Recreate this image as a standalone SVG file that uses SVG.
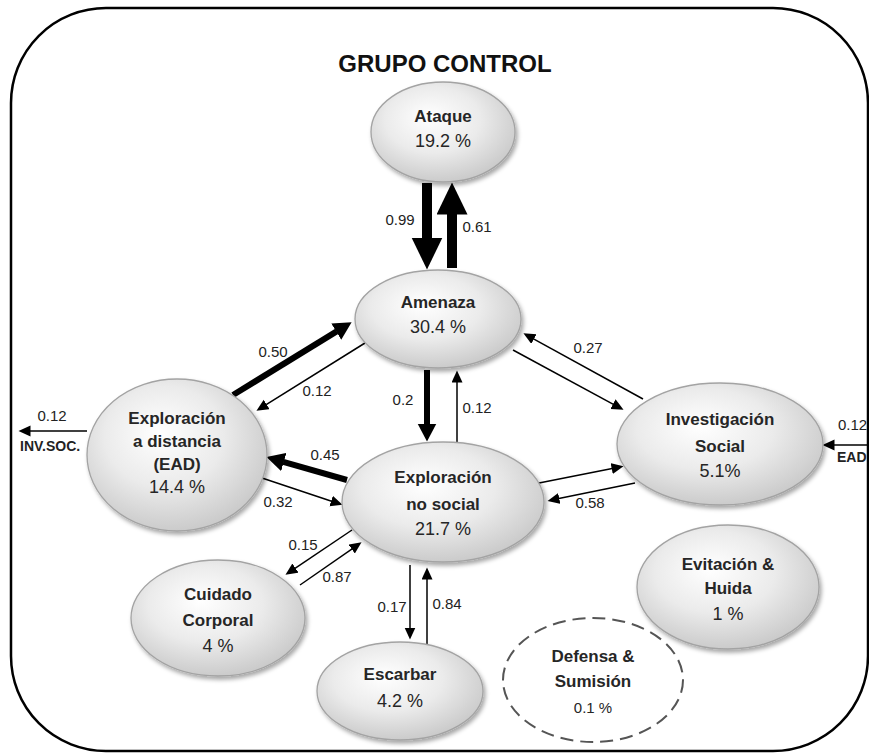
<svg xmlns="http://www.w3.org/2000/svg" width="869" height="756" viewBox="0 0 869 756">
<defs>
<radialGradient id="g" cx="45%" cy="40%" r="60%" fx="40%" fy="35%">
<stop offset="0" stop-color="#ffffff"/>
<stop offset="0.55" stop-color="#ebebeb"/>
<stop offset="1" stop-color="#cbcbcb"/>
</radialGradient>
<filter id="sh" x="-20%" y="-20%" width="140%" height="150%">
<feDropShadow dx="2" dy="3" stdDeviation="2" flood-color="#000" flood-opacity="0.35"/>
</filter>
<marker id="ms" markerUnits="userSpaceOnUse" markerWidth="14" markerHeight="12" refX="0.5" refY="5.5" orient="auto">
<path d="M0,0 L12,5.5 L0,11 Z" fill="#000"/>
</marker>
<marker id="mm" markerUnits="userSpaceOnUse" markerWidth="20" markerHeight="20" refX="0.5" refY="9.5" orient="auto">
<path d="M0,0 L18,9.5 L0,19 Z" fill="#000"/>
</marker>
<marker id="mb" markerUnits="userSpaceOnUse" markerWidth="34" markerHeight="32" refX="0.5" refY="15.5" orient="auto">
<path d="M0,0 L32,15.5 L0,31 Z" fill="#000"/>
</marker>
</defs>
<style>
.node{fill:url(#g);stroke:#a3a3a3;stroke-width:1.3;filter:url(#sh)}
.dash{fill:#fff;stroke:#555;stroke-width:2;stroke-dasharray:13 7}
.t{font-family:"Liberation Sans",Arial,sans-serif;font-weight:bold;font-size:17px;fill:#262626;text-anchor:middle}
.p{font-family:"Liberation Sans",Arial,sans-serif;font-size:18px;fill:#262626;text-anchor:middle}
.e{font-family:"Liberation Sans",Arial,sans-serif;font-size:15px;fill:#222;text-anchor:middle}
.x{font-family:"Liberation Sans",Arial,sans-serif;font-weight:bold;font-size:14px;fill:#222}
.thin{stroke:#000;stroke-width:1.5;fill:none;marker-end:url(#ms)}
.mid{stroke:#000;stroke-width:6;fill:none;marker-end:url(#mm)}
.big{stroke:#000;stroke-width:10;fill:none;marker-end:url(#mb)}
</style>
<rect x="11" y="8" width="857" height="743" rx="95" ry="95" fill="#fff" stroke="#000" stroke-width="2.5"/>
<text x="445" y="72" font-family="'Liberation Sans',Arial,sans-serif" font-weight="bold" font-size="24" fill="#111" text-anchor="middle">GRUPO CONTROL</text>

<g id="connectors">
<line class="big" x1="427" y1="183" x2="427" y2="238"/>
<line class="big" x1="452" y1="268" x2="452" y2="214"/>
<line class="mid" x1="233" y1="395" x2="336.7" y2="331.4"/>
<line class="thin" x1="365" y1="343" x2="266.2" y2="404.7"/>
<line class="mid" x1="427" y1="370" x2="427" y2="424"/>
<line class="thin" x1="457" y1="442" x2="457" y2="382"/>
<line class="mid" x1="347" y1="480" x2="283.3" y2="461.9"/>
<line class="thin" x1="262" y1="478" x2="331.6" y2="501.2"/>
<line class="thin" x1="513" y1="350" x2="613.4" y2="404.3"/>
<line class="thin" x1="643" y1="399" x2="533.5" y2="338.8"/>
<line class="thin" x1="539" y1="483" x2="612.2" y2="468.4"/>
<line class="thin" x1="635" y1="483" x2="558.8" y2="498.6"/>
<line class="thin" x1="87" y1="431" x2="30" y2="431"/>
<line class="thin" x1="869" y1="445" x2="834" y2="445"/>
<line class="thin" x1="352" y1="530" x2="295" y2="568.3"/>
<line class="thin" x1="300" y1="585" x2="352.1" y2="548.8"/>
<line class="thin" x1="410" y1="565" x2="410" y2="628"/>
<line class="thin" x1="427" y1="645" x2="427" y2="579"/>
<text class="e" x="400" y="225">0.99</text>
<text class="e" x="477" y="232">0.61</text>
<text class="e" x="273" y="357">0.50</text>
<text class="e" x="317" y="396">0.12</text>
<text class="e" x="403" y="405">0.2</text>
<text class="e" x="477" y="413">0.12</text>
<text class="e" x="325" y="460">0.45</text>
<text class="e" x="278" y="507">0.32</text>
<text class="e" x="588" y="353">0.27</text>
<text class="e" x="590" y="508">0.58</text>
<text class="e" x="303" y="550">0.15</text>
<text class="e" x="337" y="582">0.87</text>
<text class="e" x="392" y="612">0.17</text>
<text class="e" x="447" y="609">0.84</text>
<text class="e" x="52" y="421">0.12</text>
<text class="x" x="20" y="451">INV.SOC.</text>
<text class="e" x="838" y="430" style="text-anchor:start">0.12</text>
<text class="x" x="837" y="462">EAD</text>
</g>

<g id="ataque">
<ellipse class="node" cx="443" cy="132" rx="72" ry="50"/>
<text class="t" x="443" y="122">Ataque</text>
<text class="p" x="443" y="147">19.2 %</text>
</g>
<g id="amenaza">
<ellipse class="node" cx="438" cy="319" rx="83" ry="49"/>
<text class="t" x="438" y="308">Amenaza</text>
<text class="p" x="438" y="333">30.4 %</text>
</g>
<g id="ead">
<ellipse class="node" cx="177" cy="455" rx="90" ry="76"/>
<text class="t" x="177" y="424">Exploración</text>
<text class="t" x="177" y="447">a distancia</text>
<text class="t" x="177" y="470">(EAD)</text>
<text class="p" x="177" y="493">14.4 %</text>
</g>
<g id="exploracion-no-social">
<ellipse class="node" cx="443" cy="502" rx="101" ry="60"/>
<text class="t" x="443" y="483">Exploración</text>
<text class="t" x="443" y="510">no social</text>
<text class="p" x="443" y="535">21.7 %</text>
</g>
<g id="investigacion-social">
<ellipse class="node" cx="720" cy="444" rx="103" ry="61"/>
<text class="t" x="720" y="425">Investigación</text>
<text class="t" x="720" y="452">Social</text>
<text class="p" x="720" y="477">5.1%</text>
</g>
<g id="cuidado-corporal">
<ellipse class="node" cx="218" cy="618" rx="87" ry="58"/>
<text class="t" x="218" y="600">Cuidado</text>
<text class="t" x="218" y="626">Corporal</text>
<text class="p" x="218" y="652">4 %</text>
</g>
<g id="escarbar">
<ellipse class="node" cx="400" cy="691" rx="83" ry="49"/>
<text class="t" x="400" y="680">Escarbar</text>
<text class="p" x="400" y="707">4.2 %</text>
</g>
<g id="evitacion-huida">
<ellipse class="node" cx="728" cy="587" rx="91" ry="62"/>
<text class="t" x="728" y="570">Evitación &amp;</text>
<text class="t" x="728" y="594">Huida</text>
<text class="p" x="728" y="620">1 %</text>
</g>
<g id="defensa-sumision">
<ellipse class="dash" cx="593" cy="680" rx="90" ry="62"/>
<text class="t" x="593" y="662">Defensa &amp;</text>
<text class="t" x="593" y="687">Sumisión</text>
<text class="p" x="593" y="713" style="font-size:15px">0.1 %</text>
</g>
</svg>
